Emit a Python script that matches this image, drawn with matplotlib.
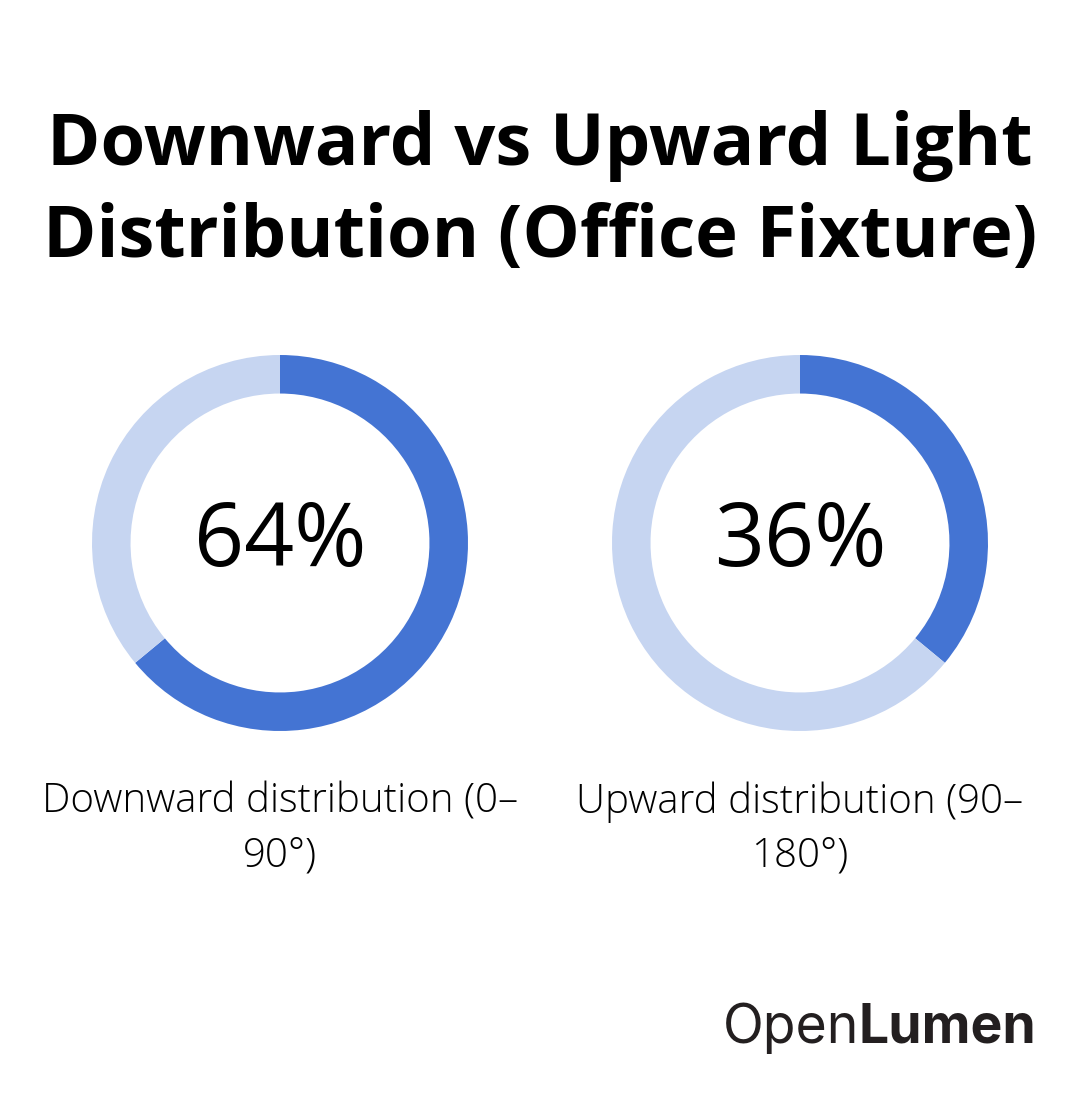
import matplotlib.pyplot as plt

# data
labels = ["Downward distribution (0–\n90°)", "Upward distribution (90–\n180°)"]
shares = [64, 36]
title = "Downward vs Upward Light\nDistribution (Office Fixture)"

dark = "#4474D3"
light = "#C6D5F1"

W, H = 1080, 1110
fig = plt.figure(figsize=(W / 100, H / 100), dpi=100)
fig.patch.set_facecolor("white")

fig.text(540 / W, 1 - 192 / H, title, ha="center", va="center",
         fontsize=52, fontweight="bold", family="Open Sans",
         linespacing=1.37, color="black")

centers = [280, 800]
R = 188
for cx, share, lab in zip(centers, shares, labels):
    ax = fig.add_axes([(cx - R) / W, 1 - (543 + R) / H, 2 * R / W, 2 * R / H])
    ax.pie([share, 100 - share], colors=[dark, light], startangle=90,
           counterclock=False, radius=1,
           wedgeprops=dict(width=0.205, linewidth=0))
    ax.set_xlim(-1, 1)
    ax.set_ylim(-1, 1)
    ax.set_aspect("equal")
    ax.axis("off")
    ax.text(0, 0, f"{share}%", ha="center", va="center", fontsize=63,
            family="Open Sans", color="black")
    fig.text(cx / W, 1 - 829 / H, lab, ha="center", va="center",
             fontsize=29, fontweight="light", family="Open Sans",
             linespacing=1.4, color="black")

# brand mark: "Open" regular + "Lumen" bold, set tight
t2 = fig.text(1036 / W, 1 - 1028 / H, "Lumen", ha="right", va="center",
              fontsize=38.5, fontweight="bold", family="Inter", color="#231F20")
r = fig.canvas.get_renderer()
bb = t2.get_window_extent(renderer=r)
fig.text((bb.x0 + 1) / W, 1 - 1028 / H, "Open", ha="right", va="center",
         fontsize=38.5, family="Inter", color="#231F20")

fig.savefig("out.png", dpi=100, facecolor="white")
